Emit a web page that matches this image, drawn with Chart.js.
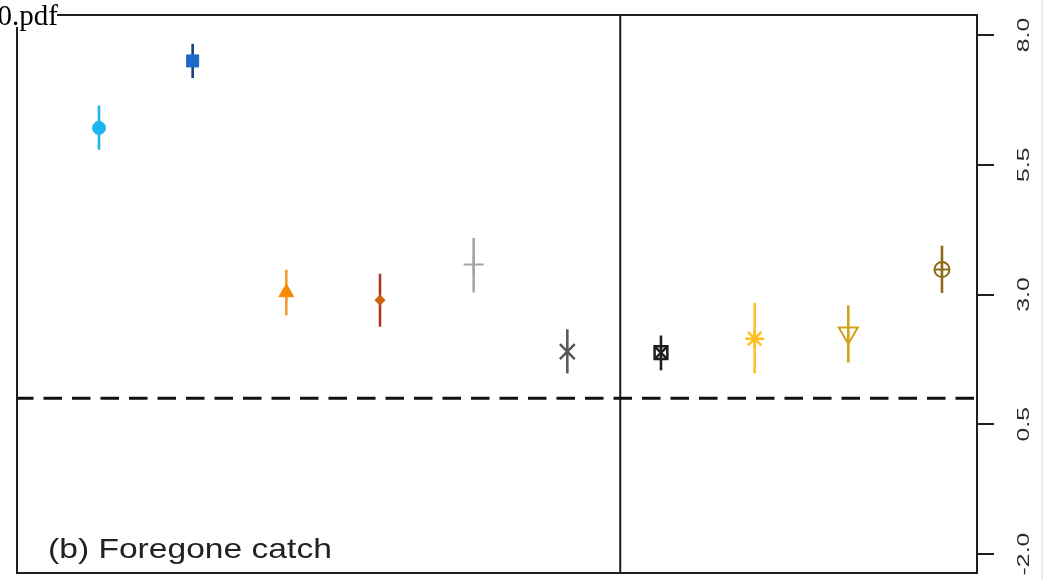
<!DOCTYPE html>
<html>
<head>
<meta charset="utf-8">
<script src="https://cdn.jsdelivr.net/npm/chart.js@4/dist/chart.umd.min.js"></script>
<style>
  html, body { margin: 0; padding: 0; background: #ffffff; overflow: hidden; }
  canvas { display: block; }
</style>
</head>
<body>
<canvas id="chart" width="1047" height="579"></canvas>
<script>
// Group positions along the horizontal axis (no labels are drawn for them)
const groups = [1, 2, 3, 4, 5, 6, 7, 8, 9, 10];
// Point estimates and interval bounds for each group
const estimates = [6.21, 7.50, 3.04, 2.89, 3.58, 1.90, 1.88, 2.15, 2.26, 3.48];
const upperBounds = [6.64, 7.83, 3.48, 3.40, 4.09, 2.33, 2.21, 2.84, 2.79, 3.94];
const lowerBounds = [5.79, 7.17, 2.60, 2.38, 3.04, 1.48, 1.54, 1.48, 1.69, 3.03];
// Right-hand axis ticks
const yTicks = [-2.0, 0.5, 3.0, 5.5, 8.0];
// Reference levels
const referenceLevel = 1.0;
const dividerPosition = 6.565;
const panelLabel = '(b) Foregone catch';
const fileStamp = '0.pdf';

// Axis extents
const xMin = 0.1246, xMax = 10.374;
const yMin = -2.365, yMax = 8.385;

// Marker appearance per group
const markerStyles = [
  { style: 'circle',   r: 6.5, fill: '#1cb6ef', stroke: '#1cb6ef', bar: '#22b4ea', w: 1 },
  { style: 'rect',     r: 8.5, fill: '#1d68c8', stroke: '#1d68c8', bar: '#1b3f80', w: 1 },
  { style: 'triangle', r: 8.5, fill: '#f58a00', stroke: '#f58a00', bar: '#f39a30', w: 1 },
  { style: 'rectRot',  r: 5,   fill: '#d0600c', stroke: '#d0600c', bar: '#a83a22', w: 1 },
  { style: 'cross',    r: 10,  fill: 'rgba(0,0,0,0)', stroke: '#a3a3a3', bar: '#a8a8a8', w: 2 },
  { style: 'crossRot', r: 10.5, fill: 'rgba(0,0,0,0)', stroke: '#555555', bar: '#5a5a5a', w: 2.5 },
  { style: 'rect',     r: 9,   fill: 'rgba(0,0,0,0)', stroke: '#1e1e1e', bar: '#1e1e1e', w: 2.5, overlay: 'crossRot' },
  { style: 'star',     r: 9.5, fill: 'rgba(0,0,0,0)', stroke: '#ffbf1f', bar: '#ffc226', w: 2.5 },
  { style: 'triangle', r: 11,  fill: 'rgba(0,0,0,0)', stroke: '#d3a11c', bar: '#d3a11c', w: 2, rot: 180 },
  { style: 'circle',   r: 7.5, fill: 'rgba(0,0,0,0)', stroke: '#8d6b16', bar: '#8d6b16', w: 2, overlay: 'cross' }
];

const datasets = [];

// Interval bars
groups.forEach((g, i) => {
  datasets.push({
    type: 'line',
    data: [{ x: g, y: lowerBounds[i] }, { x: g, y: upperBounds[i] }],
    borderColor: markerStyles[i].bar,
    borderWidth: 2.6,
    pointRadius: 0,
    fill: false,
    order: 2
  });
});

// Markers
groups.forEach((g, i) => {
  const m = markerStyles[i];
  datasets.push({
    type: 'scatter',
    data: [{ x: g, y: estimates[i] }],
    pointStyle: m.style,
    pointRadius: m.r,
    pointRotation: m.rot || 0,
    backgroundColor: m.fill,
    borderColor: m.stroke,
    pointBorderWidth: m.w,
    order: 1
  });
  if (m.overlay) {
    datasets.push({
      type: 'scatter',
      data: [{ x: g, y: estimates[i] }],
      pointStyle: m.overlay,
      pointRadius: m.r,
      backgroundColor: 'rgba(0,0,0,0)',
      borderColor: m.stroke,
      pointBorderWidth: m.w,
      order: 0
    });
  }
});

// Dashed reference level
datasets.push({
  type: 'line',
  data: [{ x: xMin, y: referenceLevel }, { x: xMax, y: referenceLevel }],
  borderColor: '#111111',
  borderWidth: 3,
  borderDash: [18.5, 10],
  borderDashOffset: 2,
  pointRadius: 0,
  order: 3
});

// Vertical divider between the two groups of estimates
datasets.push({
  type: 'line',
  data: [{ x: dividerPosition, y: yMin }, { x: dividerPosition, y: yMax }],
  borderColor: '#1a1a1a',
  borderWidth: 2,
  pointRadius: 0,
  order: 3
});

const decor = {
  id: 'decor',
  afterDatasetsDraw(chart) {
    const { ctx, chartArea: a } = chart;
    ctx.save();
    ctx.strokeStyle = '#1e1e1e';
    ctx.lineWidth = 2;
    ctx.strokeRect(a.left, a.top, a.right - a.left, a.bottom - a.top);
    ctx.restore();
  },
  afterDraw(chart) {
    const { ctx, chartArea: a } = chart;
    const ys = chart.scales.y;

    // Rotated tick labels on the right axis
    ctx.save();
    ctx.fillStyle = '#2a2a2a';
    ctx.font = '16px "Liberation Sans", Arial, sans-serif';
    ctx.textAlign = 'center';
    ctx.textBaseline = 'alphabetic';
    ys.ticks.forEach(t => {
      const py = ys.getPixelForValue(t.value);
      ctx.save();
      ctx.translate(a.right + 52, py);
      ctx.rotate(-Math.PI / 2);
      ctx.scale(1.55, 1);
      ctx.fillText(t.value.toFixed(1), 0, 0);
      ctx.restore();
    });
    ctx.restore();

    // Panel label
    ctx.save();
    ctx.fillStyle = '#222222';
    ctx.font = '28px "Liberation Sans", Arial, sans-serif';
    ctx.textAlign = 'left';
    ctx.textBaseline = 'alphabetic';
    ctx.translate(a.left + 31, a.bottom - 15);
    ctx.scale(1.2, 1);
    ctx.fillText(panelLabel, 0, 0);
    ctx.restore();

    // File name stamp in the top-left corner
    ctx.save();
    ctx.fillStyle = '#ffffff';
    ctx.fillRect(0, 0, 57, 27);
    ctx.fillStyle = '#000000';
    ctx.font = '29px "Liberation Serif", "Times New Roman", serif';
    ctx.textAlign = 'right';
    ctx.textBaseline = 'alphabetic';
    ctx.fillText(fileStamp, 58, 25);
    ctx.restore();

    // Faint page edge on the far right
    ctx.save();
    ctx.strokeStyle = '#ebebeb';
    ctx.lineWidth = 2;
    ctx.beginPath();
    ctx.moveTo(1042, 0);
    ctx.lineTo(1042, 579);
    ctx.stroke();
    ctx.restore();
  }
};

new Chart(document.getElementById('chart'), {
  type: 'scatter',
  data: { datasets },
  options: {
    responsive: false,
    animation: false,
    devicePixelRatio: 1,
    layout: { autoPadding: false, padding: { left: 17, top: 15, right: 0, bottom: 6 } },
    plugins: { legend: { display: false }, tooltip: { enabled: false }, title: { display: false } },
    elements: { line: { tension: 0 } },
    scales: {
      x: { type: 'linear', min: xMin, max: xMax, display: false },
      y: {
        type: 'linear',
        position: 'right',
        min: yMin,
        max: yMax,
        afterBuildTicks: s => { s.ticks = yTicks.map(v => ({ value: v })); },
        afterFit: s => { s.width = 70; },
        ticks: { display: false },
        grid: { drawOnChartArea: false, drawTicks: true, tickLength: 17, color: '#1e1e1e', lineWidth: 2 },
        border: { display: true, color: '#1e1e1e', width: 2 }
      }
    }
  },
  plugins: [decor]
});
</script>
</body>
</html>
